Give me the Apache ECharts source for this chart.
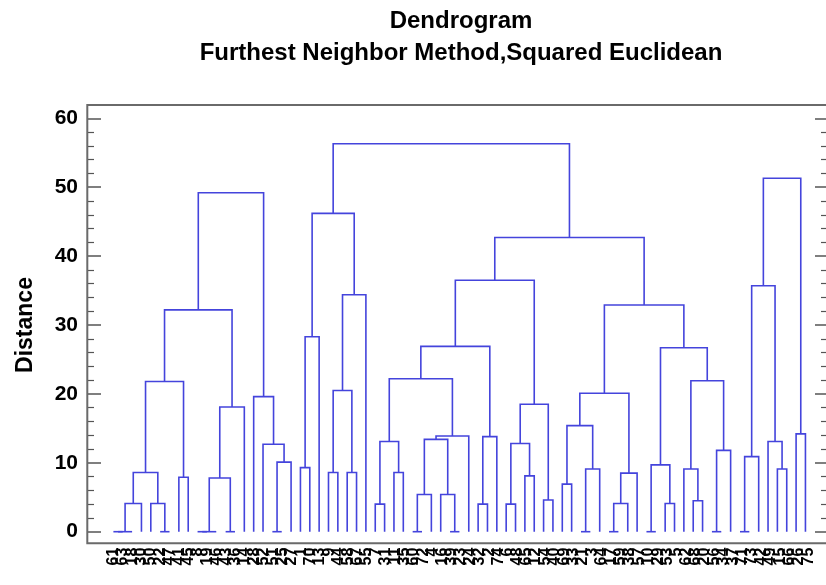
<!DOCTYPE html>
<html>
<head>
<meta charset="utf-8">
<title>Dendrogram</title>
<script src="https://cdn.jsdelivr.net/npm/echarts@6/dist/echarts.min.js"></script>
<style>
  html, body { margin: 0; padding: 0; background: #ffffff; }
  #chart { width: 826px; height: 585px; }
</style>
</head>
<body>
<div id="chart"></div>
<script>
// Leaf labels, in the left-to-right order of the dendrogram slots.
const leafLabels = [
  "61","63","18","30","50","22","47","41","45","8",
  "19","46","43","36","14","28","52","51","25","27",
  "1","70","13","9","44","58","67","55","7","31",
  "11","35","60","72","4","16","39","23","24","32",
  "2","74","6","48","65","12","54","40","69","33",
  "21","3","64","17","59","38","57","10","29","53",
  "5","62","68","20","56","34","37","71","73","42",
  "49","15","66","26","75"
];

// Each merge is [left, right, distance]; a plain number is a leaf slot.
const clusterLeft = [
  [
    [
      [[[[0, 1, 0], 2, 0], 3, 4.1], [4, [5, 6, 0], 4.1], 8.6],
      [7, 8, 7.9],
      21.8
    ],
    [[[[9, 10, 0], 11, 0], [12, 13, 0], 7.8], 14, 18.1],
    32.2
  ],
  [15, [16, [[17, 18, 0], 19, 10.1], 12.7], 19.6],
  49.2
];

const clusterMiddle = [
  [
    [[20, 21, 9.3], 22, 28.3],
    [[[23, 24, 8.6], [25, 26, 8.6], 20.5], 27, 34.4],
    46.2
  ],
  [
    [
      [
        [
          [[28, 29, 4.0], [30, 31, 8.6], 13.1],
          [[[[32, 33, 0], 34, 5.4], [35, [36, 37, 0], 5.4], 13.4], 38, 13.9],
          22.2
        ],
        [[39, 40, 4.0], 41, 13.8],
        26.9
      ],
      [[[42, 43, 4.0], [44, 45, 8.1], 12.8], [46, 47, 4.6], 18.5],
      36.5
    ],
    [
      [
        [[48, 49, 6.9], [[50, 51, 0], 52, 9.1], 15.4],
        [[[53, 54, 0], 55, 4.1], 56, 8.5],
        20.1
      ],
      [
        [[57, 58, 0], [59, 60, 4.1], 9.7],
        [[61, [62, 63, 4.5], 9.1], [[64, 65, 0], 66, 11.8], 21.9],
        26.7
      ],
      32.9
    ],
    42.7
  ],
  56.3
];

const clusterRight = [
  [[[67, 68, 0], 69, 10.9], [70, [71, 72, 9.1], 13.1], 35.7],
  [73, 74, 14.2],
  51.3
];

const clusters = [clusterLeft, clusterMiddle, clusterRight];

// Turn the nested merges into links: [xLeft, hLeft, xRight, hRight, hMerge].
// A cluster sits halfway between its two children.
function layoutNode(node, links) {
  if (typeof node === 'number') return { x: node, h: 0 };
  const a = layoutNode(node[0], links);
  const b = layoutNode(node[1], links);
  links.push([a.x, a.h, b.x, b.h, node[2]]);
  return { x: (a.x + b.x) / 2, h: node[2] };
}
const links = [];
clusters.forEach(c => layoutNode(c, links));

// Plot geometry: leaf slots are SLOT px apart, slot 0 sits at FIRST_SLOT_X.
const PLOT_LEFT = 87, PLOT_TOP = 118.3, PLOT_HEIGHT = 413.4, PLOT_RIGHT = 829;
const SLOT = 9.39, FIRST_SLOT_X = 113.5;
const slotMin = (PLOT_LEFT - FIRST_SLOT_X) / SLOT;
const slotMax = (PLOT_RIGHT - FIRST_SLOT_X) / SLOT;

const lineColor = '#4444dc';
const tickColor = '#555555';
const fontFamily = '"Liberation Sans", Arial, sans-serif';

const chart = echarts.init(document.getElementById('chart'), null, { renderer: 'canvas' });

const tickAxis = (side, showLabel) => ({
  type: 'value',
  gridIndex: 0,
  position: side,
  min: 0,
  max: 60,
  interval: 10,
  axisLine: { show: false, onZero: false },
  splitLine: { show: false },
  axisTick: { show: true, inside: true, length: side === 'left' ? 14 : 11, lineStyle: { color: tickColor, width: 1.5 } },
  minorTick: { show: true, splitNumber: 5, length: side === 'left' ? 7 : 5, lineStyle: { color: tickColor, width: 1.2 } },
  minorSplitLine: { show: false },
  axisLabel: {
    show: showLabel,
    margin: 9,
    color: '#000',
    fontSize: 21,
    fontWeight: 'bold',
    fontFamily: fontFamily
  }
});

const leftAxis = Object.assign(tickAxis('left', true), {
  name: 'Distance',
  nameLocation: 'middle',
  nameGap: 50,
  nameTextStyle: { color: '#000', fontSize: 23, fontWeight: 'bold', fontFamily: fontFamily }
});

chart.setOption({
  animation: false,
  backgroundColor: '#ffffff',
  title: {
    text: 'Dendrogram\nFurthest Neighbor Method,Squared Euclidean',
    left: 456,
    top: 0,
    textAlign: 'center',
    textStyle: { color: '#000', fontSize: 24, fontWeight: 'bold', fontFamily: fontFamily, lineHeight: 32 }
  },
  grid: [
    // tree plot
    { left: PLOT_LEFT, top: PLOT_TOP, width: PLOT_RIGHT - PLOT_LEFT, height: PLOT_HEIGHT },
    // leaf label band: one category per slot, centred on the slot positions
    { left: FIRST_SLOT_X - SLOT / 2, top: PLOT_TOP, width: SLOT * leafLabels.length, height: PLOT_HEIGHT }
  ],
  xAxis: [{
    type: 'value',
    gridIndex: 0,
    min: slotMin,
    max: slotMax,
    axisLine: { show: false, onZero: false },
    axisTick: { show: false },
    splitLine: { show: false },
    axisLabel: { show: false }
  }, {
    type: 'category',
    gridIndex: 1,
    data: leafLabels,
    boundaryGap: true,
    axisLine: { show: false, onZero: false },
    axisTick: { show: false },
    splitLine: { show: false },
    axisLabel: {
      interval: 0,
      hideOverlap: false,
      rotate: 90,
      margin: 16,
      color: '#000',
      fontSize: 16,
      fontWeight: 'bold',
      fontFamily: fontFamily
    }
  }],
  yAxis: [leftAxis, tickAxis('right', false), {
    type: 'value',
    gridIndex: 1,
    show: false,
    min: 0,
    max: 60
  }],
  graphic: [{
    type: 'rect',
    shape: { x: 87.3, y: 105, width: 742, height: 438.3 },
    style: { fill: null, stroke: '#6a6a6a', lineWidth: 2 },
    silent: true,
    z: 1
  }],
  series: [{
    type: 'custom',
    xAxisIndex: 0,
    yAxisIndex: 0,
    data: links,
    encode: { x: [0, 2], y: [1, 3, 4] },
    clip: false,
    renderItem: (params, api) => {
      const p1 = api.coord([api.value(0), api.value(1)]);
      const p2 = api.coord([api.value(0), api.value(4)]);
      const p3 = api.coord([api.value(2), api.value(4)]);
      const p4 = api.coord([api.value(2), api.value(3)]);
      return {
        type: 'polyline',
        shape: { points: [p1, p2, p3, p4] },
        style: { stroke: lineColor, lineWidth: 1.6, fill: null }
      };
    },
    z: 5
  }]
});
</script>
</body>
</html>
